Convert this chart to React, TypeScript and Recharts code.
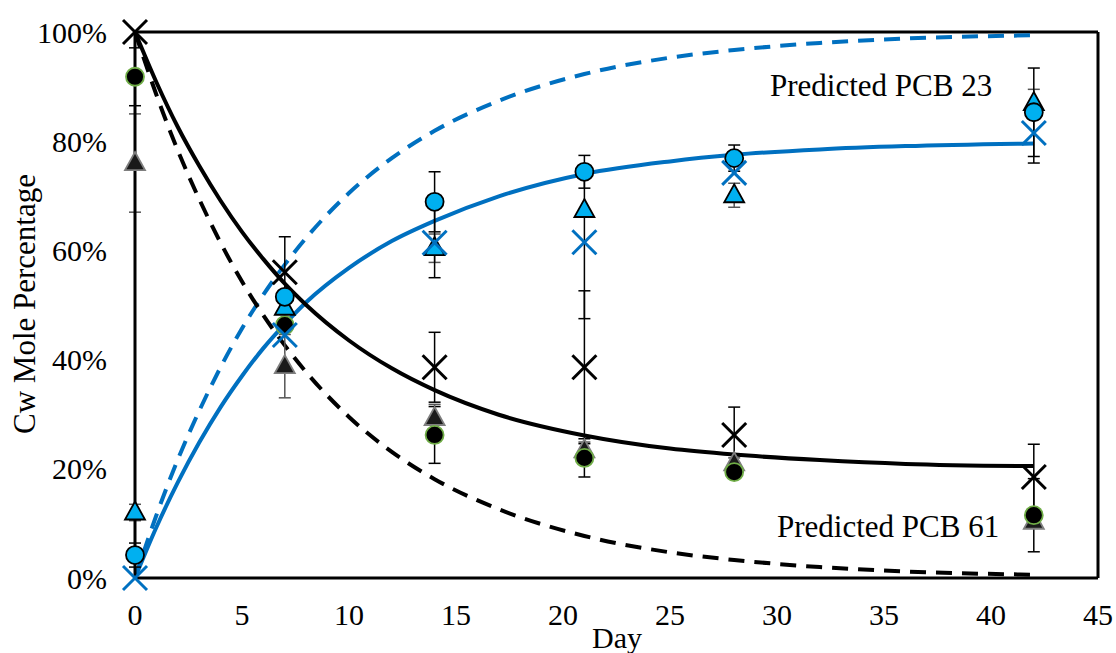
import React from 'react'
import {
  ComposedChart, Line, Scatter, XAxis, YAxis, ErrorBar, ReferenceLine,
} from 'recharts'

const FONT = '"Liberation Serif", "Times New Roman", serif'
const BLUE = '#0070C0'
const CYAN = '#00B0F0'

// sampling days of the model curves
const curveDays = [0, 1, 2, 3, 4, 5, 6, 7, 8, 10, 12, 14, 17, 21, 25, 28, 32, 36, 42]
const pcb61Solid = [100, 90.8, 82.6, 75.5, 69.1, 63.4, 58.4, 53.9, 50, 43.5, 38.4, 34.4, 29.9, 26.1, 23.7, 22.6, 21.6, 20.9, 20.5]
const pcb61Dashed = [100, 88.5, 78.3, 69.4, 61.4, 54.3, 48.1, 42.6, 37.7, 29.5, 23.1, 18.1, 12.6, 7.7, 4.7, 3.3, 2.0, 1.2, 0.6]
const pcb23Solid = [0, 9.3, 17.5, 24.8, 31.3, 37.0, 42.1, 46.5, 50.5, 56.8, 61.7, 65.4, 69.9, 74.0, 76.3, 77.5, 78.5, 79.1, 79.6]
const pcb23Dashed = [0, 11.5, 21.7, 30.6, 38.6, 45.7, 51.9, 57.4, 62.3, 70.5, 76.9, 81.9, 87.4, 92.3, 95.3, 96.7, 98.0, 98.8, 99.4]

// measured points
const days = [0, 7, 14, 21, 28, 42]
const blackX = [100, 56, 38.6, 38.6, 26.2, 18.5]
const blackXErr = [0, 6.5, 6.4, 14, 5.1, 6]
const blackCircle = [91.8, 46.3, 26.2, 22, 19.4, 11.5]
const blackCircleErr = [5.3, 0, 5.2, 3.5, 0, 6.7]
const blackTri = [76, 38.8, 29.3, 23.4, 21, 10.3]
const blackTriErr = [9, 5.8, 2.5, 1.5, 1, 0]
const blueCircle = [4.2, 51.5, 68.9, 74.4, 76.9, 85.3]
const blueCircleErr = [2.2, 0, 5.5, 3, 2.4, 8.1]
const blueTri = [12, 49.5, 60.4, 67.4, 70.1, 87]
const blueTriErr = [1.5, 0, 2.6, 0, 2.2, 2.5]
const blueX = [0, 44.5, 61.4, 61.5, 74.2, 81.5]
const blueXErr = [0, 0, 6.4, 14, 0, 5.5]

const xTicks = [0, 5, 10, 15, 20, 25, 30, 35, 40, 45]
const yTicks = [0, 20, 40, 60, 80, 100]

const curve = (vals: number[]) => curveDays.map((x, i) => ({ x, y: vals[i] }))
const points = (vals: number[], errs: number[]) =>
  days.map((x, i) => (errs[i] > 0 ? { x, y: vals[i], e: errs[i] } : { x, y: vals[i] }))

const crossShape = (color: string) => (p: any) => (
  <g stroke={color} strokeWidth={3}>
    <line x1={p.cx - 12} y1={p.cy - 12} x2={p.cx + 12} y2={p.cy + 12} />
    <line x1={p.cx - 12} y1={p.cy + 12} x2={p.cx + 12} y2={p.cy - 12} />
  </g>
)
const circleShape = (fill: string, stroke: string) => (p: any) => (
  <circle cx={p.cx} cy={p.cy} r={9} fill={fill} stroke={stroke} strokeWidth={1.8} />
)
const triShape = (fill: string, stroke: string) => (p: any) => (
  <path
    d={`M${p.cx},${p.cy - 11} L${p.cx + 10},${p.cy + 7} L${p.cx - 10},${p.cy + 7} Z`}
    fill={fill} stroke={stroke} strokeWidth={1.8}
  />
)

const tick = { fill: '#000', fontSize: 30, fontFamily: FONT }

export default function App() {
  return (
    <div style={{ position: 'absolute', left: 0, top: 0, width: 1116, height: 653, background: '#fff' }}>
      <ComposedChart width={1116} height={653} margin={{ top: 32, right: 18, left: 0, bottom: 0 }}>
        <XAxis
          dataKey="x" type="number" domain={[0, 45]} ticks={xTicks}
          axisLine={{ stroke: '#000', strokeWidth: 3 }} tickLine={false}
          tickSize={0} tickMargin={26} height={75} tick={tick}
        />
        <YAxis
          type="number" domain={[0, 100]} ticks={yTicks} width={135}
          axisLine={{ stroke: '#000', strokeWidth: 3 }} tickLine={false}
          tickSize={0} tickMargin={28} tick={tick} tickFormatter={(v) => `${v}%`}
        />
        <ReferenceLine y={100} stroke="#000" strokeWidth={3} />
        <ReferenceLine x={45} stroke="#000" strokeWidth={3} />

        <Line data={curve(pcb23Dashed)} dataKey="y" type="monotone" stroke={BLUE} strokeWidth={4} strokeDasharray="16 10" dot={false} isAnimationActive={false} />
        <Line data={curve(pcb61Dashed)} dataKey="y" type="monotone" stroke="#000" strokeWidth={4} strokeDasharray="16 10" dot={false} isAnimationActive={false} />
        <Line data={curve(pcb23Solid)} dataKey="y" type="monotone" stroke={BLUE} strokeWidth={4} dot={false} isAnimationActive={false} />
        <Line data={curve(pcb61Solid)} dataKey="y" type="monotone" stroke="#000" strokeWidth={4} dot={false} isAnimationActive={false} />

        <Scatter data={points(blackTri, blackTriErr)} dataKey="y" shape={triShape('#1a1a1a', '#7f7f7f')} isAnimationActive={false}>
          <ErrorBar dataKey="e" direction="y" width={6} stroke="#555" strokeWidth={1.5} />
        </Scatter>
        <Scatter data={points(blackCircle, blackCircleErr)} dataKey="y" shape={circleShape('#000', '#70AD47')} isAnimationActive={false}>
          <ErrorBar dataKey="e" direction="y" width={6} stroke="#000" strokeWidth={1.5} />
        </Scatter>
        <Scatter data={points(blackX, blackXErr)} dataKey="y" shape={crossShape('#000')} isAnimationActive={false}>
          <ErrorBar dataKey="e" direction="y" width={6} stroke="#000" strokeWidth={1.5} />
        </Scatter>
        <Scatter data={points(blueTri, blueTriErr)} dataKey="y" shape={triShape(CYAN, '#000')} isAnimationActive={false}>
          <ErrorBar dataKey="e" direction="y" width={6} stroke="#555" strokeWidth={1.5} />
        </Scatter>
        <Scatter data={points(blueCircle, blueCircleErr)} dataKey="y" shape={circleShape(CYAN, '#000')} isAnimationActive={false}>
          <ErrorBar dataKey="e" direction="y" width={6} stroke="#000" strokeWidth={1.5} />
        </Scatter>
        <Scatter data={points(blueX, blueXErr)} dataKey="y" shape={crossShape(BLUE)} isAnimationActive={false}>
          <ErrorBar dataKey="e" direction="y" width={6} stroke="#000" strokeWidth={1.5} />
        </Scatter>
      </ComposedChart>

      <svg width={1116} height={653} style={{ position: 'absolute', left: 0, top: 0, pointerEvents: 'none' }}>
        <g fontFamily={FONT} fill="#000">
          <text x={35} y={304} fontSize={31} textAnchor="middle" transform="rotate(-90 35 304)">Cw Mole Percentage</text>
          <text x={617} y={648} fontSize={30} textAnchor="middle">Day</text>
          <text x={770} y={96} fontSize={31}>Predicted PCB 23</text>
          <text x={777} y={537} fontSize={31}>Predicted PCB 61</text>
        </g>
      </svg>
    </div>
  )
}
